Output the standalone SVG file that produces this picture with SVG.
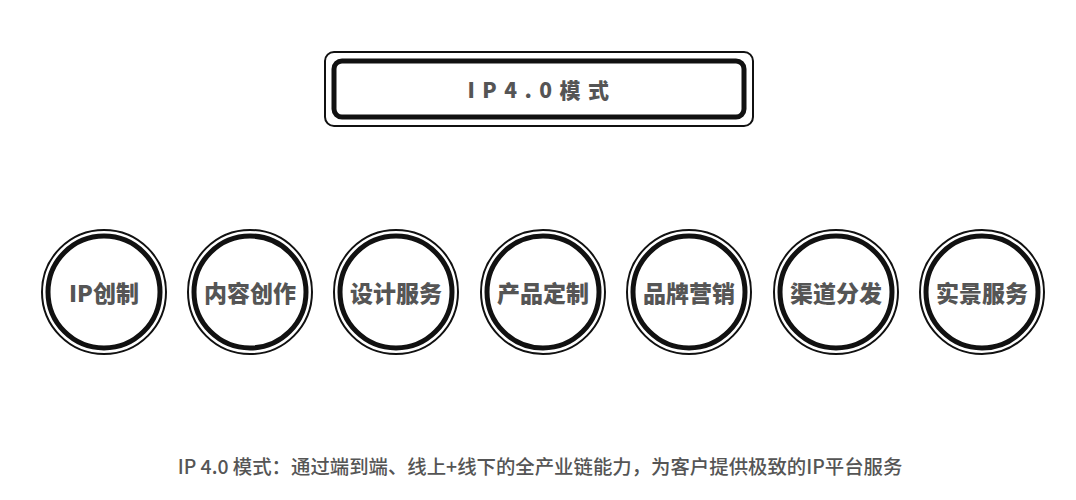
<svg xmlns="http://www.w3.org/2000/svg" width="1076" height="500" viewBox="0 0 1076 500">
<style>
.o{fill:none;stroke:#111;stroke-width:2}
.i{fill:#fff;stroke:#111;stroke-width:5}
.t{font-family:"Noto Sans CJK SC","Noto Sans",sans-serif;font-weight:900;fill:#555;text-anchor:middle;dominant-baseline:central}
.lbl{font-size:23px}
</style>
<rect width="1076" height="500" fill="#fff"/>
<g id="title">
<rect class="o" x="325" y="52" width="428" height="74" rx="9"/>
<rect class="i" x="334" y="61" width="410" height="56" rx="8"/>
<text class="t" x="542" y="89" font-size="21" letter-spacing="7.5">IP4.0模式</text>
</g>
<g id="connectors"></g>
<g id="n1"><circle class="o" cx="104" cy="292" r="62"/><circle class="i" cx="104" cy="292" r="56"/><text class="t lbl" x="104" y="292">IP创制</text></g>
<g id="n2"><circle class="o" cx="250" cy="292" r="62"/><circle class="i" cx="250" cy="292" r="56"/><text class="t lbl" x="250" y="292">内容创作</text></g>
<g id="n3"><circle class="o" cx="396" cy="292" r="62"/><circle class="i" cx="396" cy="292" r="56"/><text class="t lbl" x="396" y="292">设计服务</text></g>
<g id="n4"><circle class="o" cx="543" cy="292" r="62"/><circle class="i" cx="543" cy="292" r="56"/><text class="t lbl" x="543" y="292">产品定制</text></g>
<g id="n5"><circle class="o" cx="689" cy="292" r="62"/><circle class="i" cx="689" cy="292" r="56"/><text class="t lbl" x="689" y="292">品牌营销</text></g>
<g id="n6"><circle class="o" cx="836" cy="292" r="62"/><circle class="i" cx="836" cy="292" r="56"/><text class="t lbl" x="836" y="292">渠道分发</text></g>
<g id="n7"><circle class="o" cx="982" cy="292" r="62"/><circle class="i" cx="982" cy="292" r="56"/><text class="t lbl" x="982" y="292">实景服务</text></g>
<text x="540" y="465" font-family="Noto Sans CJK SC,Noto Sans,sans-serif" font-weight="500" font-size="19.4" fill="#555" text-anchor="middle" dominant-baseline="central">IP 4.0 模式：通过端到端、线上+线下的全产业链能力，为客户提供极致的IP平台服务</text>
</svg>
